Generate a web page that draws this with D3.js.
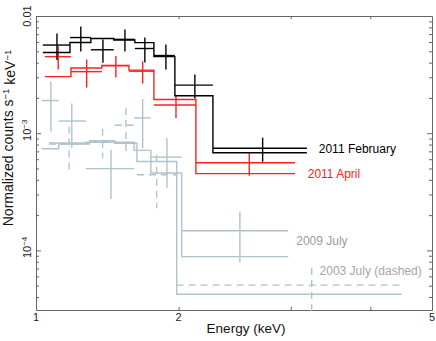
<!DOCTYPE html>
<html>
<head>
<meta charset="utf-8">
<script src="https://cdn.jsdelivr.net/npm/d3@7"></script>
<style>
  html, body { margin: 0; padding: 0; background: #fff; }
  svg { display: block; font-family: "Liberation Sans", Arial, sans-serif; }
</style>
</head>
<body>
<div id="chart"></div>
<script>
// 2011 February (black): bin edges, model curve, data points
var febEdges = [1.224, 1.350, 1.456, 1.582, 1.707, 1.829, 1.973, 2.264, 3.180];
var febModel = [0.00488, 0.00594, 0.00642, 0.00624, 0.00593, 0.00450, 0.00209, 0.000681];
var febEnergy = [1.288, 1.404, 1.521, 1.647, 1.770, 1.910, 2.121, 2.710];
var febRate = [0.00565, 0.00655, 0.00515, 0.00632, 0.00528, 0.00460, 0.00257, 0.000743];
var febErr = [0.00143, 0.00158, 0.00115, 0.00135, 0.00127, 0.00111, 0.000595, 0.000172];

// 2011 April (red)
var aprEdges = [1.233, 1.355, 1.515, 1.671, 1.829, 2.129, 3.046];
var aprModel = [0.00304, 0.00360, 0.00378, 0.00345, 0.00194, 0.000452];
var aprEnergy = [1.294, 1.434, 1.594, 1.756, 1.981, 2.582];
var aprRate = [0.00450, 0.00335, 0.00377, 0.00338, 0.00174, 0.000559];
var aprErr = [0.00101, 0.00090, 0.000785, 0.00073, 0.000392, 0.000126];

// 2009 July (grey, solid)
var jul09Edges = [1.219, 1.296, 1.430, 1.703, 1.809, 2.022, 2.973];
var jul09Model = [0.000737, 0.000809, 0.000838, 0.000713, 0.000457, 0.0000885];
var jul09Energy = [1.260, 1.359, 1.566, 1.756, 1.917, 2.496];
var jul09Rate = [0.00190, 0.00127, 0.000499, 0.00135, 0.000625, 0.000147];
var jul09Err = [0.000868, 0.00052, 0.000225, 0.000607, 0.000285, 0.000068];

// 2003 July (grey, dashed)
var jul03Edges = [1.251, 1.451, 1.588, 1.720, 1.986, 4.48];
var jul03Model = [0.000825, 0.000863, 0.000821, 0.000574, 0.0000422];
var jul03Energy = [1.346, 1.519, 1.653, 1.847, 3.236];
var jul03Rate = [0.000807, 0.00085, 0.00117, 0.000442, 0.0000505];
var jul03Err = [0.000336, 0.00024, 0.00047, 0.000213, 0.0000203];

// axes
var xMin = 1.194, xMax = 5;
var yMin = 3.1e-5, yMax = 0.01;
var xLabelValues = [xMin, 2, 5];
var xLabelText = ["1", "2", "5"];
var xMinorTicks = [2, 3, 4];
var yMajorTicks = [1e-4, 1e-3, 1e-2];
var yMinorTicks = [4e-5, 5e-5, 6e-5, 7e-5, 8e-5, 9e-5,
  2e-4, 3e-4, 4e-4, 5e-4, 6e-4, 7e-4, 8e-4, 9e-4,
  2e-3, 3e-3, 4e-3, 5e-3, 6e-3, 7e-3, 8e-3, 9e-3];
var yLabelBase = ["10", "10", "0.01"];
var yLabelExp = ["\u22124", "\u22123", ""];

// series labels
var labelText = ["2011 February", "2011 April", "2009 July", "2003 July (dashed)"];
var labelEnergy = [3.32, 3.19, 3.06, 3.33];
var labelValue = [0.00074, 0.000451, 0.000120, 0.0000667];
var labelColor = ["#000", "#ff2020", "#9c9c9c", "#a6a6a6"];

var width = 436, height = 341;
var margin = { top: 16, right: 4, bottom: 31, left: 36 };

var svg = d3.select("#chart").append("svg")
  .attr("width", width)
  .attr("height", height);

var x = d3.scaleLog().domain([xMin, xMax]).range([margin.left, width - margin.right]);
var y = d3.scaleLog().domain([yMin, yMax]).range([height - margin.bottom, margin.top]);

var axisColor = "#666";

// Frame with inward ticks.
function styleAxis(g) {
  g.selectAll("path, line").attr("stroke", axisColor).attr("stroke-width", 1);
}
svg.append("g").attr("transform", "translate(0," + y.range()[0] + ")")
  .call(d3.axisBottom(x).tickValues(xMinorTicks).tickSize(-3).tickSizeOuter(0).tickFormat(""))
  .call(styleAxis);
svg.append("g").attr("transform", "translate(0," + y.range()[1] + ")")
  .call(d3.axisTop(x).tickValues(xMinorTicks).tickSize(-3).tickSizeOuter(0).tickFormat(""))
  .call(styleAxis);
[["left", x.range()[0], d3.axisLeft], ["right", x.range()[1], d3.axisRight]].forEach(function (a) {
  svg.append("g").attr("transform", "translate(" + a[1] + ",0)")
    .call(a[2](y).tickValues(yMajorTicks).tickSize(-5).tickSizeOuter(0).tickFormat(""))
    .call(styleAxis);
  svg.append("g").attr("transform", "translate(" + a[1] + ",0)")
    .call(a[2](y).tickValues(yMinorTicks).tickSize(-3).tickSizeOuter(0).tickFormat(""))
    .call(styleAxis)
    .select(".domain").remove();
});

// Tick labels.
svg.selectAll(".xlab").data(xLabelValues).enter().append("text")
  .attr("class", "xlab")
  .attr("x", function (d) { return x(d); })
  .attr("y", y.range()[0] + 11)
  .attr("text-anchor", "middle")
  .attr("font-size", 11)
  .attr("fill", "#222")
  .text(function (d, i) { return xLabelText[i]; });

yMajorTicks.forEach(function (v, i) {
  var off = yLabelExp[i] ? -3 : 0;
  var t = svg.append("text")
    .attr("transform", "translate(" + (margin.left - 5) + "," + (y(v) + off) + ") rotate(-90)")
    .attr("text-anchor", "middle")
    .attr("font-size", 11)
    .attr("fill", "#222");
  t.append("tspan").text(yLabelBase[i]);
  if (yLabelExp[i]) {
    t.append("tspan").attr("dy", "-0.45em").attr("font-size", 8).text(yLabelExp[i]);
  }
});

// Axis titles.
svg.append("text")
  .attr("x", 246).attr("y", 333)
  .attr("text-anchor", "middle")
  .attr("font-size", 13.5)
  .attr("fill", "#111")
  .text("Energy (keV)");

var yt = svg.append("text")
  .attr("transform", "translate(13,138) rotate(-90)")
  .attr("text-anchor", "middle")
  .attr("font-size", 14)
  .attr("fill", "#111");
yt.append("tspan").text("Normalized counts s");
yt.append("tspan").attr("dy", "-0.45em").attr("font-size", 9.5).text("\u22121");
yt.append("tspan").attr("dy", "0.45em").text(" keV");
yt.append("tspan").attr("dy", "-0.45em").attr("font-size", 9.5).text("\u22121");

// Plot helpers.
var plot = svg.append("g");
var stepLine = d3.line()
  .x(function (d) { return x(d[0]); })
  .y(function (d) { return y(d[1]); })
  .curve(d3.curveStepAfter);

function drawModel(edges, values, color) {
  var pts = values.map(function (v, i) { return [edges[i], v]; });
  pts.push([edges[edges.length - 1], values[values.length - 1]]);
  plot.append("path")
    .attr("d", stepLine(pts))
    .attr("fill", "none")
    .attr("stroke", color)
    .attr("stroke-width", 1.4);
}

function drawCrosses(edges, energy, rate, err, color, dash) {
  var g = plot.append("g")
    .attr("stroke", color)
    .attr("stroke-width", 1.4)
    .attr("stroke-dasharray", dash || null);
  g.selectAll(".h").data(rate).enter().append("line")
    .attr("x1", function (d, i) { return x(edges[i]); })
    .attr("x2", function (d, i) { return x(edges[i + 1]); })
    .attr("y1", function (d) { return y(d); })
    .attr("y2", function (d) { return y(d); });
  g.selectAll(".v").data(rate).enter().append("line")
    .attr("x1", function (d, i) { return x(energy[i]); })
    .attr("x2", function (d, i) { return x(energy[i]); })
    .attr("y1", function (d, i) { return y(d + err[i]); })
    .attr("y2", function (d, i) { return y(d - err[i]); });
}

var greyBlue = "#afc3cc";
drawModel(jul03Edges, jul03Model, greyBlue);
drawModel(jul09Edges, jul09Model, greyBlue);
drawCrosses(jul09Edges, jul09Energy, jul09Rate, jul09Err, greyBlue);
drawCrosses(jul03Edges, jul03Energy, jul03Rate, jul03Err, greyBlue, "7,5");

drawModel(aprEdges, aprModel, "#ff2020");
drawCrosses(aprEdges, aprEnergy, aprRate, aprErr, "#ff2020");

drawModel(febEdges, febModel, "#000");
drawCrosses(febEdges, febEnergy, febRate, febErr, "#000");

// Series labels.
svg.selectAll(".slab").data(labelText).enter().append("text")
  .attr("class", "slab")
  .attr("x", function (d, i) { return x(labelEnergy[i]); })
  .attr("y", function (d, i) { return y(labelValue[i]); })
  .attr("dy", "0.35em")
  .attr("font-size", 12)
  .attr("fill", function (d, i) { return labelColor[i]; })
  .text(function (d) { return d; });
</script>
</body>
</html>
